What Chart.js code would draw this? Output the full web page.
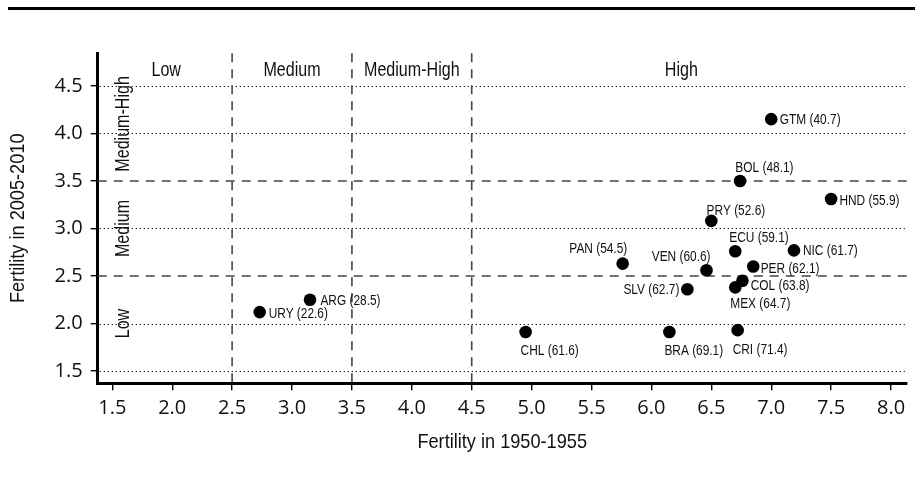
<!DOCTYPE html>
<html>
<head>
<meta charset="utf-8">
<script src="https://cdn.jsdelivr.net/npm/chart.js@4/dist/chart.umd.min.js"></script>
<style>
  body { margin: 0; background: #fff; }
  #wrap { position: relative; width: 921px; height: 486px; }
  #topRule { position: absolute; left: 8px; top: 7px; width: 907px; height: 3px; background: #000; }
  canvas { position: absolute; left: 0; top: 0; }
</style>
</head>
<body>
<div id="wrap">
  <canvas id="fert" width="921" height="486"></canvas>
  <div id="topRule"></div>
</div>
<script>
// Countries, fertility in 1950-1955 (x) and 2005-2010 (y), value shown in brackets
const countries = ["GTM", "BOL", "HND", "PRY", "PAN", "ECU", "VEN", "NIC", "PER",
                   "COL", "MEX", "SLV", "CHL", "BRA", "CRI", "URY", "ARG"];
const fert1950 = [7.00, 6.74, 7.50, 6.50, 5.76, 6.70, 6.46, 7.19, 6.85,
                  6.76, 6.70, 6.30, 4.95, 6.15, 6.72, 2.73, 3.15];
const fert2005 = [4.15, 3.50, 3.31, 3.08, 2.63, 2.76, 2.56, 2.77, 2.60,
                  2.45, 2.38, 2.36, 1.91, 1.91, 1.93, 2.12, 2.25];
const bracketValues = [40.7, 48.1, 55.9, 52.6, 54.5, 59.1, 60.6, 61.7, 62.1,
                       63.8, 64.7, 62.7, 61.6, 69.1, 71.4, 22.6, 28.5];

const xTicks = [1.5, 2.0, 2.5, 3.0, 3.5, 4.0, 4.5, 5.0, 5.5, 6.0, 6.5, 7.0, 7.5, 8.0];
const yTicks = [1.5, 2.0, 2.5, 3.0, 3.5, 4.0, 4.5];
const xCuts = [2.5, 3.5, 4.5];
const yCuts = [2.5, 3.5];

const xTitle = "Fertility in 1950-1955";
const yTitle = "Fertility in 2005-2010";
const topGroups = ["Low", "Medium", "Medium-High", "High"];
const topGroupAt = [1.95, 3.0, 4.0, 6.25];
const sideGroups = ["Low", "Medium", "Medium-High"];
const sideGroupAt = [2.0, 3.0, 4.1];

// label placement per point: [dx px, dy px, align]
const labelPlace = [
  [8.6, 0, "left"], [-4.7, -14, "left"], [8.3, 1, "left"], [-4.7, -11, "left"],
  [4.6, -16, "right"], [-6, -14, "left"], [4, -14.3, "right"], [9, 0, "left"],
  [7.4, 2, "left"], [8.3, 4.3, "left"], [-5, 15.7, "left"], [-8, 0, "right"],
  [-5, 17.7, "left"], [-5, 17.7, "left"], [-5, 19, "left"], [9, 0.5, "left"],
  [10.4, 0, "left"]
];

// condensed look: Liberation Sans squeezed horizontally
function narrowText(ctx, text, x, y, size, sx, align, rot) {
  ctx.save();
  ctx.font = size + "px 'Liberation Sans', Arial, sans-serif";
  ctx.translate(x, y);
  if (rot) ctx.rotate(rot);
  ctx.scale(sx, 1);
  ctx.textAlign = align;
  ctx.fillText(text, 0, 0);
  ctx.restore();
}

const guides = {
  id: "guides",
  beforeDatasetsDraw(chart) {
    const { ctx, chartArea: a, scales: { x, y } } = chart;
    ctx.save();
    // dotted grid
    ctx.strokeStyle = "#000";
    ctx.lineWidth = 1.1;
    ctx.setLineDash([1.2, 2.8]);
    yTicks.filter(v => !yCuts.includes(v)).forEach(v => {
      const py = Math.round(y.getPixelForValue(v)) + 0.5;
      ctx.beginPath(); ctx.moveTo(a.left + 2, py); ctx.lineTo(a.right + 1, py); ctx.stroke();
    });
    // dashed category boundaries
    ctx.strokeStyle = "#444";
    ctx.lineWidth = 1.6;
    ctx.setLineDash([9, 7]);
    yCuts.forEach(v => {
      const py = y.getPixelForValue(v);
      ctx.beginPath(); ctx.moveTo(a.left, py); ctx.lineTo(a.right + 1, py); ctx.stroke();
    });
    xCuts.forEach(v => {
      const px = x.getPixelForValue(v);
      ctx.beginPath(); ctx.moveTo(px, a.top); ctx.lineTo(px, a.bottom); ctx.stroke();
    });
    ctx.restore();
  },
  afterDatasetsDraw(chart) {
    const { ctx, chartArea: a, scales: { x, y } } = chart;
    const meta = chart.getDatasetMeta(0);
    ctx.save();
    ctx.fillStyle = "#111";
    ctx.textBaseline = "middle";
    meta.data.forEach((pt, i) => {
      const [dx, dy, al] = labelPlace[i];
      const txt = countries[i] + " (" + bracketValues[i].toFixed(1) + ")";
      narrowText(ctx, txt, pt.x + dx, pt.y + dy + 1, 14.5, 0.82, al);
    });
    // group names
    ctx.textBaseline = "alphabetic";
    topGroups.forEach((t, i) => {
      narrowText(ctx, t, x.getPixelForValue(topGroupAt[i]), y.getPixelForValue(4.605), 19.6, 0.82, "center");
    });
    ctx.textBaseline = "middle";
    sideGroups.forEach((t, i) => {
      narrowText(ctx, t, x.getPixelForValue(1.593), y.getPixelForValue(sideGroupAt[i]), 19.6, 0.82, "center", -Math.PI / 2);
    });
    // axis titles
    const cx = (a.left + a.right) / 2, cy = (a.top + a.bottom) / 2;
    narrowText(ctx, xTitle, cx, a.bottom + 59.2, 21, 0.865, "center");
    narrowText(ctx, yTitle, a.left - 79.4, cy, 21, 0.865, "center", -Math.PI / 2);
    ctx.restore();
  }
};

new Chart(document.getElementById("fert"), {
  type: "scatter",
  data: {
    datasets: [{
      data: fert1950.map((v, i) => ({ x: v, y: fert2005[i] })),
      backgroundColor: "#000",
      borderWidth: 0,
      pointRadius: 6.3
    }]
  },
  options: {
    responsive: false,
    animation: false,
    devicePixelRatio: 1,
    layout: { padding: { left: 0, top: 53.3, right: 14.3, bottom: 0 } },
    plugins: { legend: { display: false }, tooltip: { enabled: false } },
    scales: {
      x: {
        type: "linear",
        min: 1.378,
        max: 8.131,
        afterFit(s) { s.height = 102.7; },
        afterBuildTicks(s) { s.ticks = xTicks.map(v => ({ value: v })); },
        grid: { drawOnChartArea: false, tickLength: 7, color: "#000", lineWidth: 1.4 },
        border: { display: true, width: 3, color: "#000" },
        ticks: {
          autoSkip: false, maxRotation: 0, padding: 6, color: "#111",
          font: { family: "Open Sans", size: 20 },
          callback: v => v.toFixed(1)
        }
      },
      y: {
        type: "linear",
        min: 1.371,
        max: 4.843,
        afterFit(s) { s.width = 97.7; },
        afterBuildTicks(s) { s.ticks = yTicks.map(v => ({ value: v })); },
        grid: { drawOnChartArea: false, tickLength: 7, color: "#000", lineWidth: 1.4 },
        border: { display: true, width: 3, color: "#000" },
        ticks: {
          padding: 8, color: "#111",
          font: { family: "Open Sans", size: 20 },
          callback: v => v.toFixed(1)
        }
      }
    }
  },
  plugins: [guides]
});
</script>
</body>
</html>
